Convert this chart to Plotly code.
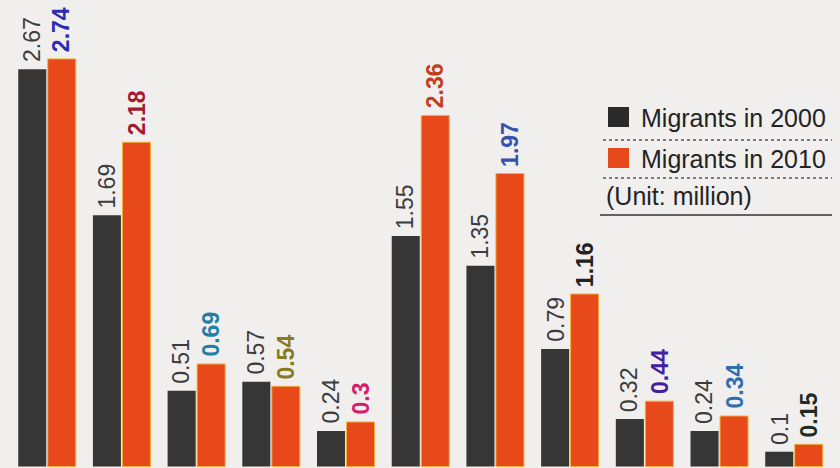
import plotly.graph_objects as go

groups = list(range(11))
migrants_2000 = [2.67, 1.69, 0.51, 0.57, 0.24, 1.55, 1.35, 0.79, 0.32, 0.24, 0.1]
migrants_2010 = [2.74, 2.18, 0.69, 0.54, 0.30, 2.36, 1.97, 1.16, 0.44, 0.34, 0.15]
labels_2000 = ["2.67", "1.69", "0.51", "0.57", "0.24", "1.55", "1.35", "0.79", "0.32", "0.24", "0.1"]
labels_2010 = ["2.74", "2.18", "0.69", "0.54", "0.3", "2.36", "1.97", "1.16", "0.44", "0.34", "0.15"]
label_colors_2010 = ["#2b2bb5", "#a3192e", "#1f7fa6", "#8a7a1e", "#d2206c", "#c63d1c",
                     "#3552b0", "#222222", "#4320a0", "#2f6fb0", "#1d2b22"]

BG = "#f1efee"
DARK = "#363636"
ORANGE = "#e8491b"
FONT = "Liberation Sans Narrow, Arial Narrow, Liberation Sans, Arial, sans-serif"

fig = go.Figure()
fig.add_trace(go.Bar(x=groups, y=migrants_2000, marker=dict(color=DARK, line=dict(width=0)),
                     name="Migrants in 2000", showlegend=False))
fig.add_trace(go.Bar(x=groups, y=migrants_2010, marker=dict(color=ORANGE, line=dict(color="#f2b23a", width=1)),
                     name="Migrants in 2010", showlegend=False))

off = 0.1975
for i, (v, t) in enumerate(zip(migrants_2000, labels_2000)):
    fig.add_annotation(x=i - off, y=v, text=t, textangle=-90, showarrow=False,
                       xanchor="center", yanchor="bottom", yshift=5,
                       font=dict(family=FONT, size=23, color="#3c3c3c"))
for i, (v, t, c) in enumerate(zip(migrants_2010, labels_2010, label_colors_2010)):
    fig.add_annotation(x=i + off, y=v, text="<b>" + t + "</b>", textangle=-90, showarrow=False,
                       xanchor="center", yanchor="bottom", yshift=5,
                       font=dict(family=FONT, size=23, color=c))

W, H = 840, 468
def px(x):
    return x / W
def py(y):
    return 1 - y / H

# legend
fig.add_shape(type="rect", xref="paper", yref="paper", x0=px(608), x1=px(629), y0=py(107), y1=py(127),
              fillcolor="#2a2a2a", line=dict(width=0))
fig.add_shape(type="rect", xref="paper", yref="paper", x0=px(608), x1=px(629), y0=py(148), y1=py(168),
              fillcolor=ORANGE, line=dict(width=0))
fig.add_shape(type="line", xref="paper", yref="paper", x0=px(603), x1=px(832), y0=py(140), y1=py(140),
              line=dict(color="#555555", width=1.5, dash="dot"))
fig.add_shape(type="line", xref="paper", yref="paper", x0=px(603), x1=px(832), y0=py(178), y1=py(178),
              line=dict(color="#555555", width=1.5, dash="dot"))
fig.add_shape(type="line", xref="paper", yref="paper", x0=px(600), x1=px(832), y0=py(215), y1=py(215),
              line=dict(color="#333333", width=1.5))
legend_texts = [("Migrants in 2000", 639, 118), ("Migrants in 2010", 639, 159), ("(Unit: million)", 604, 196)]
for t, x, y in legend_texts:
    fig.add_annotation(xref="paper", yref="paper", x=px(x), y=py(y), text=t, showarrow=False,
                       xanchor="left", yanchor="middle",
                       font=dict(family="Liberation Sans, Arial, sans-serif", size=25, color="#232323"))

fig.update_layout(
    width=W, height=H,
    margin=dict(l=0, r=0, t=0, b=0),
    paper_bgcolor=BG, plot_bgcolor=BG,
    barmode="group", bargap=0.21, bargroupgap=0.05,
    xaxis=dict(range=[-0.629, 10.616], visible=False, fixedrange=True),
    yaxis=dict(range=[-0.0094, 3.1358], visible=False, fixedrange=True),
)
fig.write_html("out.html")
